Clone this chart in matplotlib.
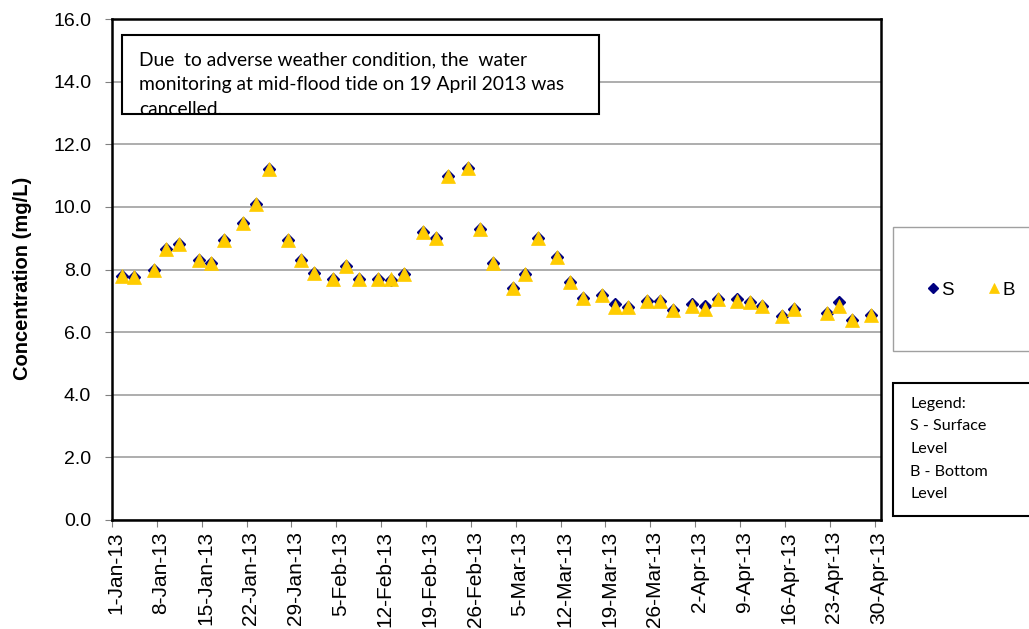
import matplotlib
matplotlib.use("Agg")
import matplotlib.pyplot as plt
from matplotlib.patches import Rectangle
from matplotlib.ticker import FormatStrFormatter
from matplotlib.transforms import ScaledTranslation
import pandas as pd
import numpy as np

# sampling dates (Mon/Wed/Fri), 19 Apr cancelled
dates = ['2013-01-02', '2013-01-04', '2013-01-07', '2013-01-09', '2013-01-11',
         '2013-01-14', '2013-01-16', '2013-01-18', '2013-01-21', '2013-01-23',
         '2013-01-25', '2013-01-28', '2013-01-30', '2013-02-01', '2013-02-04',
         '2013-02-06', '2013-02-08', '2013-02-11', '2013-02-13', '2013-02-15',
         '2013-02-18', '2013-02-20', '2013-02-22', '2013-02-25', '2013-02-27',
         '2013-03-01', '2013-03-04', '2013-03-06', '2013-03-08', '2013-03-11',
         '2013-03-13', '2013-03-15', '2013-03-18', '2013-03-20', '2013-03-22',
         '2013-03-25', '2013-03-27', '2013-03-29', '2013-04-01', '2013-04-03',
         '2013-04-05', '2013-04-08', '2013-04-10', '2013-04-12', '2013-04-15',
         '2013-04-17', '2013-04-22', '2013-04-24', '2013-04-26', '2013-04-29']

# surface level
s_vals = [7.8, 7.75, 8.0, 8.65, 8.8, 8.3, 8.2, 8.95, 9.5, 10.1,
          11.2, 8.95, 8.3, 7.9, 7.7, 8.1, 7.7, 7.7, 7.65, 7.85,
          9.2, 9.0, 11.0, 11.25, 9.3, 8.2, 7.4, 7.85, 9.0, 8.4,
          7.6, 7.1, 7.2, 6.9, 6.8, 7.0, 7.0, 6.7, 6.9, 6.85,
          7.05, 7.05, 6.95, 6.85, 6.5, 6.75, 6.6, 6.95, 6.4, 6.55]

# bottom level
b_vals = [7.8, 7.75, 8.0, 8.65, 8.8, 8.3, 8.2, 8.95, 9.5, 10.1,
          11.2, 8.95, 8.3, 7.9, 7.7, 8.1, 7.7, 7.7, 7.7, 7.85,
          9.2, 9.0, 11.0, 11.25, 9.3, 8.2, 7.4, 7.85, 9.0, 8.4,
          7.6, 7.1, 7.2, 6.8, 6.8, 7.0, 7.0, 6.7, 6.85, 6.75,
          7.05, 7.0, 6.95, 6.85, 6.5, 6.75, 6.6, 6.85, 6.4, 6.55]

tick_dates = ['2013-01-01', '2013-01-08', '2013-01-15', '2013-01-22', '2013-01-29',
              '2013-02-05', '2013-02-12', '2013-02-19', '2013-02-26', '2013-03-05',
              '2013-03-12', '2013-03-19', '2013-03-26', '2013-04-02', '2013-04-09',
              '2013-04-16', '2013-04-23', '2013-04-30']
tick_labels = ['1-Jan-13', '8-Jan-13', '15-Jan-13', '22-Jan-13', '29-Jan-13',
               '5-Feb-13', '12-Feb-13', '19-Feb-13', '26-Feb-13', '5-Mar-13',
               '12-Mar-13', '19-Mar-13', '26-Mar-13', '2-Apr-13', '9-Apr-13',
               '16-Apr-13', '23-Apr-13', '30-Apr-13']

note = ["Due  to adverse weather condition, the  water",
        "monitoring at mid-flood tide on 19 April 2013 was",
        "cancelled."]
key_lines = ["Legend:", "S - Surface", "Level", "B - Bottom", "Level"]

W, H = 1029, 629
plt.rcParams['font.family'] = ['Liberation Sans', 'DejaVu Sans']

def fx(px):
    return px / W

def fy(py):
    return 1 - py / H

fig = plt.figure(figsize=(W / 100, H / 100), dpi=100)
ax = fig.add_axes([fx(112), fy(520), (881 - 112) / W, (520 - 19) / H])

# excel puts points in the middle of the day
x = pd.to_datetime(dates) + pd.Timedelta(hours=12)
ax.plot(x, s_vals, ls='none', marker='D', ms=6.5, color='#000080',
        mec='#000080', label='S', zorder=3, clip_on=False)
ax.plot(x, b_vals, ls='none', marker='^', ms=9.5, color='#FFCC00',
        mec='#FFCC00', mew=0.5, label='B', zorder=4, clip_on=False)

ax.set_ylim(0, 16)
ax.set_yticks(np.arange(0, 16.1, 2))
ax.yaxis.set_major_formatter(FormatStrFormatter('%.1f'))
ax.set_xlim(pd.Timestamp('2013-01-01'), pd.Timestamp('2013-05-01'))
ax.set_xticks(pd.to_datetime(tick_dates))
ax.set_xticklabels(tick_labels, rotation=90)

ax.yaxis.grid(True, color='#a0a0a0', lw=1.2)
ax.set_axisbelow(True)
for sp in ax.spines.values():
    sp.set_color('black')
    sp.set_linewidth(1.8)
ax.tick_params(axis='both', direction='out', length=5, color='#808080', width=0.8)
ax.tick_params(axis='y', pad=10, labelsize=14)
ax.tick_params(axis='x', pad=3, labelsize=15)
# shift date labels a bit right of the tick like excel
for lab in ax.get_xticklabels():
    lab.set_transform(lab.get_transform() + ScaledTranslation(3 / 72, 0, fig.dpi_scale_trans))

ax.set_ylabel('Concentration (mg/L)', fontsize=14.5, fontweight='bold')
ax.yaxis.set_label_coords(-0.104, 0.483)

# note box
fig.add_artist(Rectangle((fx(122), fy(114)), (599 - 122) / W, (114 - 35) / H,
                         transform=fig.transFigure, facecolor='white',
                         edgecolor='black', lw=1.5, zorder=5))
for i, line in enumerate(note):
    fig.text(fx(139), fy(65 + 25 * i), line, family='Lato', fontsize=13.9,
             va='baseline', ha='left', zorder=6)

# series legend box
fig.add_artist(Rectangle((fx(893), fy(351)), (1040 - 893) / W, (351 - 227) / H,
                         transform=fig.transFigure, facecolor='white',
                         edgecolor='#a0a0a0', lw=1, zorder=5))
leg = fig.legend(loc='center left', bbox_to_anchor=(fx(925), fy(290)), ncol=2,
                 frameon=False, fontsize=13.5, handlelength=0.8, handletextpad=0.05,
                 columnspacing=1.75, borderpad=0, borderaxespad=0, markerscale=0.75)
leg.set_zorder(6)

# key box
fig.add_artist(Rectangle((fx(893), fy(516)), (1040 - 893) / W, (516 - 383) / H,
                         transform=fig.transFigure, facecolor='white',
                         edgecolor='black', lw=1.5, zorder=5))
for i, line in enumerate(key_lines):
    fig.text(fx(910), fy(404 + 22.5 * i), line, family='Lato', fontsize=11.6,
             va='center', ha='left', zorder=6)

fig.savefig('out.png', dpi=100)
